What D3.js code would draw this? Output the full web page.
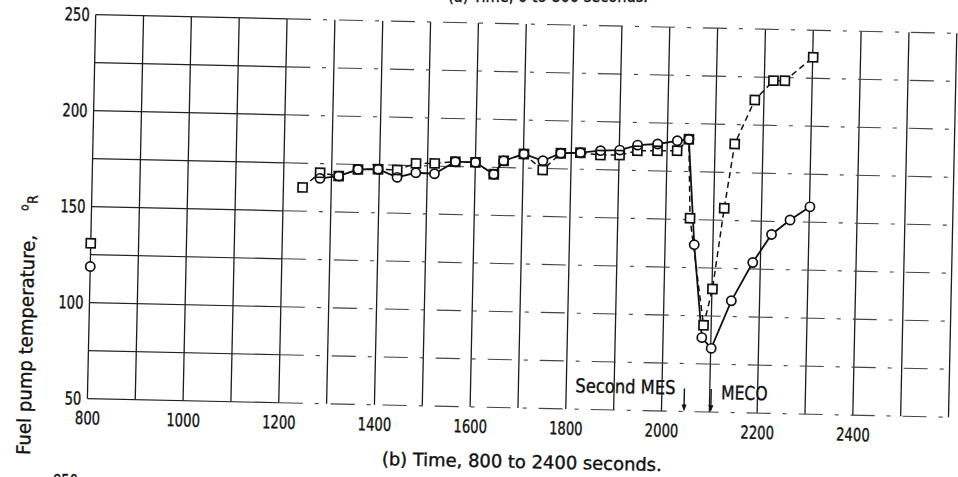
<!DOCTYPE html>
<html>
<head>
<meta charset="utf-8">
<script src="https://cdn.jsdelivr.net/npm/d3@7"></script>
<style>
  html, body { margin: 0; padding: 0; background: #fff; }
  svg { display: block; }
  text { font-family: "Liberation Sans Narrow", "DejaVu Sans Condensed", "Arial Narrow", "DejaVu Sans", sans-serif;
         fill: #111; stroke: #111; stroke-width: 0.35px; }
</style>
</head>
<body>
<svg id="chart" width="958" height="477"></svg>
<script>
// Tick labels
const timeTicks = [800, 1000, 1200, 1400, 1600, 1800, 2000, 2200, 2400];
const tempTicks = [50, 100, 150, 200, 250];

// Square symbols (dashed curve), time in s, temperature in deg R
const squareTime = [1240, 1276, 1315, 1355, 1397, 1437, 1476, 1515, 1558, 1600, 1639, 1659, 1701, 1741, 1778,
  1819, 1861, 1901, 1938, 1980, 2021, 2045, 2051, 2084, 2101, 2122, 2141, 2181, 2219, 2243, 2301];
const squareTemp = [162.4, 170.2, 168.7, 172.4, 172.7, 172.5, 176.2, 176.4, 177.5, 177.4, 171.4, 178.5, 182.3, 174.2, 183.1,
  183.6, 182.6, 182.8, 185.3, 185.5, 185.7, 191.8, 150.7, 95.1, 114.1, 156.3, 189.9, 213.0, 223.3, 223.4, 235.9];

// Circle symbols (solid curve)
const circleTime = [1276, 1315, 1355, 1397, 1437, 1476, 1515, 1558, 1600, 1639, 1659, 1701, 1741, 1778, 1819,
  1861, 1901, 1938, 1980, 2021, 2045, 2061, 2081, 2101, 2141, 2184, 2222, 2260, 2301];
const circleTemp = [167.3, 168.7, 172.4, 172.7, 168.7, 171.3, 171.0, 177.5, 177.4, 171.4, 178.5, 182.3, 179.0, 183.1, 183.6,
  184.9, 185.4, 188.2, 189.0, 190.9, 191.8, 137.0, 88.7, 83.2, 108.2, 128.4, 143.2, 150.9, 158.0];

// Isolated readings at the start of the period
const earlyTime = [800];
const earlySquareTemp = [130.9];
const earlyCircleTemp = [118.8];

// Event markers
const eventLabels = ["Second MES", "MECO"];
const eventTimes = [2047, 2103];

const svg = d3.select("#chart");
const plotW = 861.3, plotH = 384;
const x = d3.scaleLinear().domain([800, 2600]).range([0, plotW]);
const y = d3.scaleLinear().domain([50, 250]).range([plotH, 0]);

// Narrow lettering: squeeze text to a fixed advance per character
function narrow(sel, perChar) {
  sel.attr("textLength", function () { return this.textContent.length * perChar; })
     .attr("lengthAdjust", "spacingAndGlyphs");
}

// The whole sheet sits slightly turned
const tilt = 1.24;
const g = svg.append("g").attr("transform", `translate(95.7,14.7) rotate(${tilt})`);

// Grid: every 100 s and every 25 deg R
const gridTimes = d3.range(800, 2601, 100);
const gridTemps = d3.range(50, 251, 25);

g.append("g").selectAll("line").data(gridTimes).join("line")
  .attr("x1", d => x(d)).attr("x2", d => x(d))
  .attr("y1", 0).attr("y2", plotH)
  .attr("stroke", "#1c1c1c").attr("stroke-width", 1.3);

const hg = g.append("g");
hg.selectAll("line.solid").data(gridTemps).join("line").attr("class", "solid")
  .attr("x1", x(800)).attr("x2", x(1200))
  .attr("y1", d => y(d)).attr("y2", d => y(d))
  .attr("stroke", "#222").attr("stroke-width", 1.2);
hg.selectAll("line.broken").data(gridTemps).join("line").attr("class", "broken")
  .attr("x1", x(1200)).attr("x2", x(2600))
  .attr("y1", d => y(d)).attr("y2", d => y(d))
  .attr("stroke", "#444").attr("stroke-width", 1.1)
  .attr("stroke-dasharray", "24,12,4,12");

// Axes (labels only; the frame comes from the grid)
const xAxis = g.append("g").attr("transform", `translate(0,${plotH})`)
  .call(d3.axisBottom(x).tickValues(timeTicks).tickSize(0).tickPadding(13).tickFormat(d3.format("d")));
const yAxis = g.append("g")
  .call(d3.axisLeft(y).tickValues(tempTicks).tickSize(0).tickPadding(6).tickFormat(d3.format("d")));
[xAxis, yAxis].forEach(a => {
  a.select(".domain").remove();
  a.selectAll("text").attr("font-size", 18)
    .attr("font-family", "'Liberation Sans Narrow', 'DejaVu Sans Condensed', 'DejaVu Sans', sans-serif")
    .attr("fill", "#111").attr("stroke", "#111").attr("stroke-width", 0.4)
    .call(narrow, 8.4);
});

// Curves
const line = d3.line().x(d => x(d[0])).y(d => y(d[1]));
const squarePts = squareTime.map((t, i) => [t, squareTemp[i]]);
const circlePts = circleTime.map((t, i) => [t, circleTemp[i]]);

g.append("path").datum(squarePts).attr("d", line)
  .attr("fill", "none").attr("stroke", "#111").attr("stroke-width", 1.5)
  .attr("stroke-dasharray", "6,4");
g.append("path").datum(circlePts).attr("d", line)
  .attr("fill", "none").attr("stroke", "#111").attr("stroke-width", 1.8);

// Symbols: white interiors first, then outlines so overlapping symbols both show
const sqAll = squarePts.concat(earlyTime.map((t, i) => [t, earlySquareTemp[i]]));
const ciAll = circlePts.concat(earlyTime.map((t, i) => [t, earlyCircleTemp[i]]));
const side = 9, r = 4.6;

function drawSymbols(layer, fill, stroke) {
  layer.selectAll("rect").data(sqAll).join("rect")
    .attr("x", d => x(d[0]) - side / 2).attr("y", d => y(d[1]) - side / 2)
    .attr("width", side).attr("height", side)
    .attr("fill", fill).attr("stroke", stroke).attr("stroke-width", stroke === "none" ? 0 : 1.7);
  layer.selectAll("circle").data(ciAll).join("circle")
    .attr("cx", d => x(d[0])).attr("cy", d => y(d[1])).attr("r", r)
    .attr("fill", fill).attr("stroke", stroke).attr("stroke-width", stroke === "none" ? 0 : 1.7);
}
drawSymbols(g.append("g"), "#fff", "none");
drawSymbols(g.append("g"), "none", "#111");

// Event arrows and labels
const ev = g.append("g");
eventTimes.forEach((t, i) => {
  const ex = x(t);
  ev.append("line").attr("x1", ex).attr("x2", ex).attr("y1", plotH - 23).attr("y2", plotH - 4)
    .attr("stroke", "#111").attr("stroke-width", 1.4);
  ev.append("path")
    .attr("d", `M${ex - 2.5},${plotH - 7} L${ex + 2.5},${plotH - 7} L${ex},${plotH} Z`)
    .attr("fill", "#111");
});
ev.append("text").attr("x", x(eventTimes[0]) - 9).attr("y", plotH - 17)
  .attr("text-anchor", "end").attr("font-size", 19).text(eventLabels[0])
  .call(narrow, 10);
ev.append("text").attr("x", x(eventTimes[1]) + 10).attr("y", plotH - 13)
  .attr("text-anchor", "start").attr("font-size", 19).text(eventLabels[1])
  .call(narrow, 11.6);

// Axis titles
svg.append("text")
  .attr("transform", `translate(381.7,465) rotate(${tilt})`)
  .attr("font-size", 18)
  .attr("textLength", 280).attr("lengthAdjust", "spacingAndGlyphs")
  .text("(b) Time, 800 to 2400 seconds.");

const yTitle = svg.append("g").attr("transform", `translate(30,455) rotate(${-90 + tilt})`);
yTitle.append("text").attr("font-size", 19)
  .attr("textLength", 220).attr("lengthAdjust", "spacingAndGlyphs")
  .text("Fuel pump temperature,");
yTitle.append("text").attr("x", 244).attr("y", -7).attr("font-size", 12).text("o");
yTitle.append("text").attr("x", 251).attr("y", 2).attr("font-size", 14).text("R");

// Caption of the panel above and page number, both running off the sheet edge
svg.append("text").attr("x", 648).attr("y", 2).attr("text-anchor", "end")
  .attr("font-size", 18).attr("textLength", 200).attr("lengthAdjust", "spacingAndGlyphs")
  .text("(a) Time, 0 to 800 seconds.");
svg.append("text").attr("x", 53).attr("y", 487).attr("font-size", 18)
  .attr("textLength", 25).attr("lengthAdjust", "spacingAndGlyphs").text("850");
</script>
</body>
</html>
